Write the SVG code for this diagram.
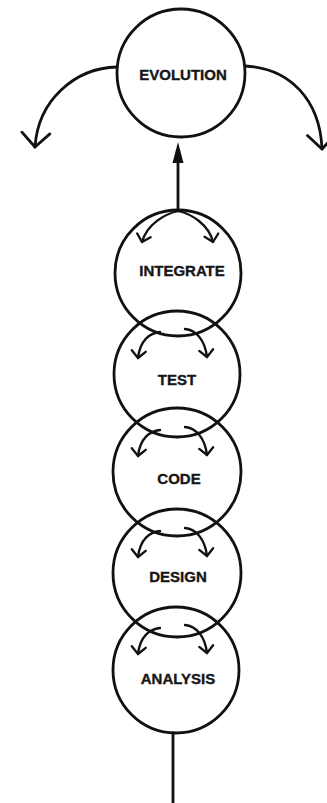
<svg xmlns="http://www.w3.org/2000/svg" width="327" height="803" viewBox="0 0 327 803">
  <defs>
    <style>
      .ring { fill: none; stroke: #111; stroke-width: 2.8; }
      .line { fill: none; stroke: #111; stroke-width: 2.8; stroke-linecap: round; }
      .small { fill: none; stroke: #111; stroke-width: 2.3; stroke-linecap: round; }
      .label { font-family: "Liberation Sans", Arial, sans-serif; font-weight: bold; font-size: 15px; fill: #161616; stroke: #161616; stroke-width: 0.35; text-anchor: middle; }
    </style>
    <!-- open chevron heads -->
    <marker id="bigHead" markerUnits="userSpaceOnUse" markerWidth="40" markerHeight="40" viewBox="-20 -20 40 40" refX="0" refY="0" orient="auto" overflow="visible">
      <path d="M -14 -14 L 0 0 L -14 14" fill="none" stroke="#111" stroke-width="2.8" stroke-linecap="round" stroke-linejoin="round"/>
    </marker>
    <marker id="smallHead" markerUnits="userSpaceOnUse" markerWidth="20" markerHeight="20" viewBox="-10 -10 20 20" refX="0" refY="0" orient="auto" overflow="visible">
      <path d="M -7 -7 L 0 0 L -7 7" fill="none" stroke="#111" stroke-width="2.3" stroke-linecap="round" stroke-linejoin="round"/>
    </marker>
    <!-- pair of inner arrows at the top of each stacked phase -->
    <g id="innerPair">
      <path class="small" d="M -17 -42 C -27 -41 -37 -34 -39 -16" marker-end="url(#smallHead)"/>
      <path class="small" d="M 8 -45 C 19 -44 28 -34 30 -17" marker-end="url(#smallHead)"/>
    </g>
  </defs>

  <rect width="327" height="803" fill="#ffffff"/>

  <g id="connectors">
    <!-- branches leaving evolution -->
    <path class="line" d="M 117 67 C 75 68 38 100 35 147" marker-end="url(#bigHead)"/>
    <path class="line" d="M 245 66 C 290 68 320 100 322 149" marker-end="url(#bigHead)"/>
    <!-- feed into evolution -->
    <line class="line" x1="178" y1="211" x2="178" y2="160"/>
    <path d="M 178 142 L 183.5 163 L 172.5 163 Z" fill="#111"/>
    <!-- arrows at the top of integrate -->
    <path class="small" d="M 178 211 C 165 214 147 224 142 242" marker-end="url(#smallHead)"/>
    <path class="small" d="M 178 211 C 192 214 209 225 213 242" marker-end="url(#smallHead)"/>
    <!-- arrows between stacked phases -->
    <use href="#innerPair" x="177" y="374"/>
    <use href="#innerPair" x="177" y="472"/>
    <use href="#innerPair" x="177" y="573"/>
    <use href="#innerPair" x="177" y="670"/>
    <!-- entry line at the bottom -->
    <line class="line" x1="173" y1="733" x2="173" y2="803"/>
  </g>

  <g id="evolution">
    <circle class="ring" cx="181" cy="73" r="64"/>
    <text class="label" x="183" y="80">EVOLUTION</text>
  </g>
  <g id="integrate">
    <circle class="ring" cx="178" cy="273" r="63"/>
    <text class="label" x="182" y="276">INTEGRATE</text>
  </g>
  <g id="test">
    <circle class="ring" cx="177" cy="374" r="63"/>
    <text class="label" x="177" y="385">TEST</text>
  </g>
  <g id="code">
    <circle class="ring" cx="177" cy="472" r="64"/>
    <text class="label" x="179" y="484">CODE</text>
  </g>
  <g id="design">
    <circle class="ring" cx="177" cy="573" r="64"/>
    <text class="label" x="178" y="582">DESIGN</text>
  </g>
  <g id="analysis">
    <circle class="ring" cx="176" cy="670" r="63"/>
    <text class="label" x="178" y="684">ANALYSIS</text>
  </g>
</svg>
